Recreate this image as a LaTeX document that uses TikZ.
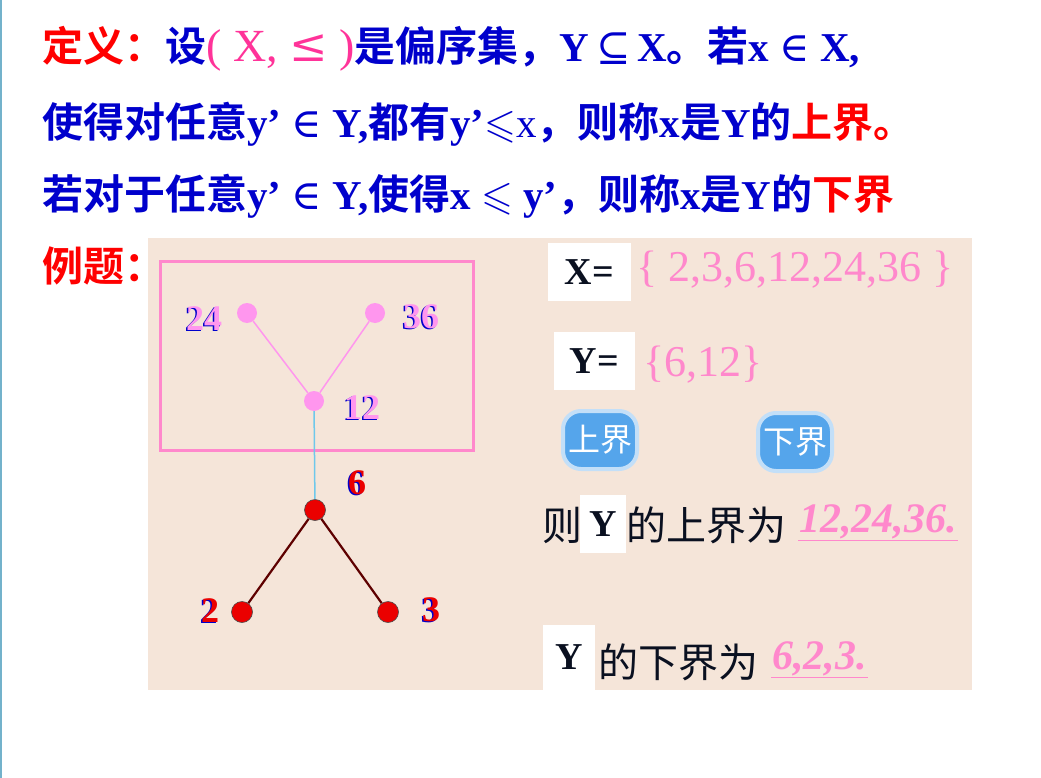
\documentclass[tikz,border=0pt]{standalone}
\usepackage{amssymb}
\usepackage{fontspec}
\setmainfont{Liberation Serif}
\newfontfamily\cjk{Noto Sans CJK SC}[BoldFont={Noto Sans CJK SC Bold}]
\newfontfamily\symf{DejaVu Serif}
\usetikzlibrary{calc}

\definecolor{defblue}{RGB}{0,0,204}
\definecolor{defred}{RGB}{255,0,0}
\definecolor{ordpink}{RGB}{255,51,153}
\definecolor{bgbeige}{RGB}{245,229,217}
\definecolor{setpink}{RGB}{255,136,204}
\definecolor{nodepink}{RGB}{255,150,238}
\definecolor{nodered}{RGB}{235,0,0}
\definecolor{edgeblue}{RGB}{110,200,235}
\definecolor{cloudblue}{RGB}{85,165,235}
\definecolor{inkblack}{RGB}{10,16,32}

\newcommand\zh[1]{{\cjk #1}}
\newcommand\sy[1]{{\mdseries\symf #1}}
\newcommand\dbl[2]{\rlap{\kern-1.5pt\raisebox{-1pt}{\textcolor{defblue}{#2}}}\textcolor{#1}{#2}}

\begin{document}
\begin{tikzpicture}[x=1pt, y=-1pt,
	deftext/.style={anchor=base west, text=defblue, inner sep=0pt,
		font=\fontsize{41}{44}\selectfont\bfseries\boldmath},
	ptpink/.style={circle, fill=nodepink, inner sep=0pt, minimum size=20pt},
	ptred/.style={circle, fill=nodered, draw=black!70, line width=0.6pt, inner sep=0pt, minimum size=21pt},
	numlbl/.style={inner sep=0pt, font=\fontsize{36}{36}\selectfont\bfseries},
	wbox/.style={fill=white, inner sep=0pt, text=inkblack, font=\fontsize{38}{38}\selectfont\bfseries},
	settext/.style={anchor=west, inner sep=0pt, text=setpink, font=\fontsize{44}{44}\selectfont},
	cntext/.style={anchor=west, inner sep=0pt, text=inkblack, font=\fontsize{40}{40}\selectfont\cjk},
	ansval/.style={anchor=west, inner sep=1pt, text=setpink, font=\fontsize{42}{42}\selectfont\bfseries\itshape},
	cloud/.style={fill=cloudblue, draw=cloudblue!35, line width=4pt, rounded corners=18pt,
		minimum width=74pt, minimum height=58pt, text=white, font=\fontsize{32}{32}\selectfont\cjk}]
	\useasboundingbox (0,0) rectangle (1041,778);
	\fill[white] (0,0) rectangle (1041,778);
	\draw[edgeblue!70!gray, line width=1.5pt] (1,0) -- (1,778);

	\node[deftext] (line1) at (42,62) {\textcolor{defred}{\zh{定义：}}\zh{设}{\mdseries\unboldmath\fontsize{46}{46}\selectfont\color{ordpink}( X, \sy{≤} )}\zh{是偏序集，}Y\,\sy{⊆}\,X\zh{。若}x \sy{∈} X,};
	\node[deftext] (line2) at (42,138) {\zh{使得对任意}y’ \sy{∈} Y,\zh{都有}y’$\leqslant${\mdseries x}\zh{，则称}x\zh{是}Y\zh{的}\textcolor{defred}{\zh{上界。}}};
	\node[deftext] (line3) at (42,210) {\zh{若对于任意}y’ \sy{∈} Y,\zh{使得}x $\leqslant$ y’\zh{，则称}x\zh{是}Y\zh{的}\textcolor{defred}{\zh{下界}}};
	\node[deftext, text=defred] (line4) at (42,281) {\zh{例题：}};

	\fill[bgbeige] (148,238) rectangle (972,690);
	\draw[setpink, line width=3pt] (160,261) rectangle (473,450);

	\foreach \n/\x/\y in {24/247/313, 36/375/313, 12/314/401}
		\node[ptpink] (n\n) at (\x,\y) {};
	\foreach \n/\x/\y in {6/315/510, 2/242/612, 3/388/612}
		\node[ptred] (n\n) at (\x,\y) {};
	\draw[nodepink, line width=1.5pt] (n24) -- (n12) -- (n36);
	\draw[edgeblue, line width=1.5pt] (n12) -- (n6);
	\draw[black!60!nodered, line width=2.2pt] (n2) -- (n6) -- (n3);

	\foreach \n/\x/\y in {24/204/319, 36/421/317, 12/362/408}
		\node[numlbl] (t\n) at (\x,\y) {\dbl{nodepink}{\n}};
	\foreach \n/\x/\y in {6/357/483, 2/210/611, 3/431/610}
		\node[numlbl] (t\n) at (\x,\y) {\dbl{nodered}{\n}};

	\node[wbox, minimum width=83pt, minimum height=58pt] (xbox) at (589.5,272) {X=};
	\node[settext] (xset) at (636,270) {\{ 2,3,6,12,24,36 \}};
	\node[wbox, minimum width=81pt, minimum height=58pt] (ybox) at (594.5,361) {Y=};
	\node[settext] (yset) at (643,365) {\{6,12\}};

	\node[cloud] (upcl) at (600,440) {上界};
	\node[cloud] (lowcl) at (795,442) {下界};

	\node[cntext] (ze) at (542,525) {则};
	\node[wbox, minimum width=46pt, minimum height=58pt] (yb1) at (603,524) {Y};
	\node[cntext] (ub) at (626,525) {的上界为};
	\node[ansval] (ubv) at (798,522) {12,24,36.};
	\draw[setpink, line width=1.5pt] (ubv.south west) -- (ubv.south east);

	\node[wbox, minimum width=52pt, minimum height=65pt] (yb2) at (569,657) {Y};
	\node[cntext] (lb) at (598,662) {的下界为};
	\node[ansval] (lbv) at (771,659) {6,2,3.};
	\draw[setpink, line width=1.5pt] (lbv.south west) -- (lbv.south east);
\end{tikzpicture}
\end{document}
